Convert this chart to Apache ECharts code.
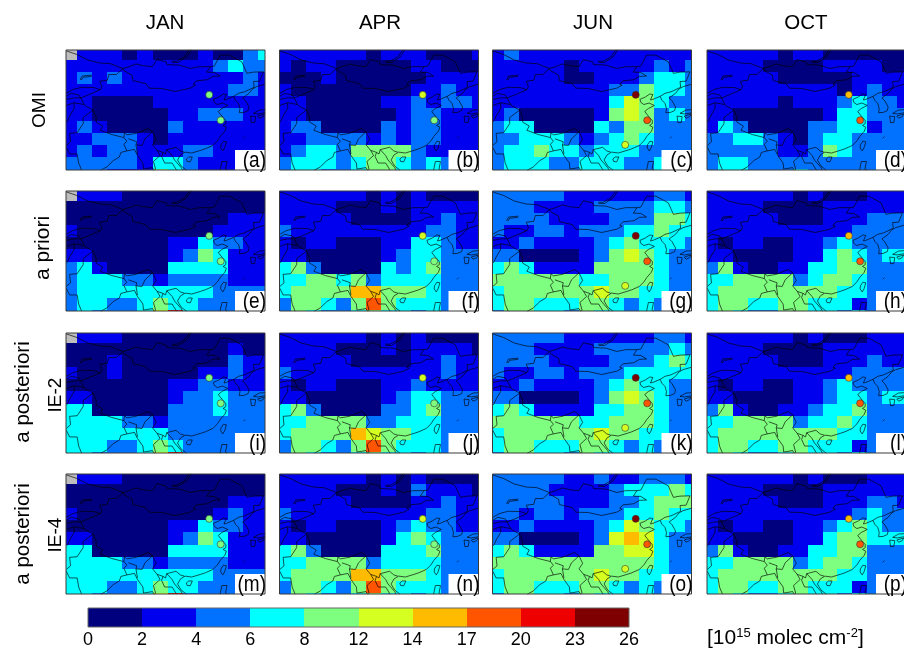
<!DOCTYPE html>
<html><head><meta charset="utf-8">
<script src="https://cdn.jsdelivr.net/npm/echarts@6/dist/echarts.min.js"></script>
<style>html,body{margin:0;padding:0;background:#fff}#c{width:904px;height:650px}</style></head>
<body><div id="c"></div>
<script>
const months=['JAN','APR','JUN','OCT'];
const rowNames=[['OMI'],['a priori'],['a posteriori','IE-2'],['a posteriori','IE-4']];
const tickLabels=['0','2','4','6','8','12','14','17','20','23','26'];
const binEdges=[0,2,4,6,8,12,14,17,20,23,26];
const binMid=[1,3,5,7,10,13,15.5,18.5,21.5,24.5];
const binColors=['#00007f','#0000ee','#0072ff','#00ffff','#7fff7f','#d4ff20','#ffbb00','#ff5500','#ee0000','#7f0000'];
const panelLetters=['a','b','c','d','e','f','g','h','i','j','k','l','m','n','o','p'];
// rows north to south, columns west to east; each digit is a colour-bin index, "-" = no data
const panelA=["-1110100010023","11111111112322","12121111111121","11111111111221","11000011111111","11000001122211","12100002111111","11222101111111","12122111221111","22222133211111","22211143211111"];
const panelB=["11111101110001","10110000011000","00010000001111","10000000011211","11000001121221","11000000122111","12200002122111","11222212122111","12332444421111","23332344323222","23322344323222"];
const panelC=["12111111111111","11111011111212","11111001112332","11111111224332","11111111354322","12000001454232","23300003244222","22333212343222","23343323332222","23332233322322","23332233322322"];
const panelD=["11111011000000","11110000111100","11111000001111","11111111101211","11111011123221","11000000133222","13200002233122","22332102332222","22222112432222","23322222222222","23322232222222"];
const panelE=["-1110000000000","00000000000000","00000000000111","10000000001111","00000001132211","11000001243111","23100003333111","23332212222111","23333333332222","23322343322222","23222358322222"];
const panelF=["11111101010000","11110001011111","11111000011211","21111111112211","10110001133211","11000001233222","34200003234222","33443423333222","34444664443222","24432474333222","24322343323222"];
const panelG=["22222111111221","22211112222332","22221111222443","21122122233433","11211112343332","22000012454322","34311114444322","44444433444322","34444445443322","34433344323222","24433243323222"];
const panelH=["11111101000111","11110000111111","11111000111222","11111111112222","10110011232222","11000011343233","24100113344222","33444423443222","34444444433222","34433443331222","34322443323222"];
const panelI=["-1110000000000","00000000000100","00010000000211","10010000011211","00000001122111","11000001223222","33000002223222","33332212222222","33333332222222","33322343222222","33222358222222"];
const panelJ=["11111101010000","11110001011110","11111000011211","21111111111211","10110001121111","11000001233222","34200002234222","33444422333222","34444654433222","24432474333222","24322343323222"];
const panelK=["22222111111221","22211112222232","22221111222343","21122122233333","11211112343322","22000012454322","34311113344322","44444433444322","34444445443322","34433344323222","24433243323222"];
const panelL=["11111101000111","11110000111111","11111000111211","11111111112222","10110011232222","11000011233233","24100112334222","33444423343222","34444444433222","34433443331222","34322343323222"];
const panelM=["-1110000000000","00000000000000","00000000000111","10000000001211","00000001132211","11000001243111","33000003333111","33332212222111","33333333332222","33322343322222","33222358222222"];
const panelN=["11111101010000","11110001021110","11111000011211","21111111112211","10110001232211","11000001343222","34200003334222","33444423333222","34444664443222","24432474333222","24322343323222"];
const panelO=["22222112112221","22221111233343","22222111223444","22122122233433","11211112354332","22000012565322","34311114455322","44444444444322","34444445443322","34433344323222","24433243323222"];
const panelP=["11111101000111","11110000111111","11111000111221","11111111112322","10110011234322","11000011344333","24100113344222","33444423443222","34444444433222","34433443331222","34322343323222"];
const panels=[panelA,panelB,panelC,panelD,panelE,panelF,panelG,panelH,panelI,panelJ,panelK,panelL,panelM,panelN,panelO,panelP];
// site dots: [lon, lat], and the column (month) values at each site
const sites=[[116.3,40.5],[120.1,32.1],[112.8,24.0]];
const siteJan=[10,10,null];
const siteApr=[13,10,null];
const siteJun=[24.5,18.5,13];
const siteOct=[15.5,18.5,null];
const siteVals=[siteJan,siteApr,siteJun,siteOct];
// map outlines, lon/lat
const mapLines=[
[[87.7,49.2],[89.7,49.8],[92,50.7],[94.5,50.1],[97.5,49.8],[98.9,52.1],[102,51.4],[102.3,50.5],[106.5,50.3],[110,49.2],[113,49.8],[116.7,49.8],[115.5,48],[118,47.9],[119.9,46.7],[117.5,46.6],[115.7,45.5],[112,45.1],[111,44],[111.8,43.7],[110,42.7],[105,41.6],[100.5,42.6],[96.4,42.7],[95.3,44.2],[91,45.2],[90.7,47],[88,48.5],[87.7,49.2]],
[[68.9,55],[72.5,53.8],[76,52],[80,51],[83.5,50.8],[87.7,49.2]],
[[116.7,49.8],[118,50],[119.9,53.6],[123,53.6],[127.1,51.4],[128.8,47.6],[131,48],[134.3,48.1],[133,45],[131,44.9],[131.2,43],[130.6,42.4],[128,41.5],[126,41],[124.4,40]],
[[130.6,42.4],[132,43.2],[134.8,44]],
[[124.4,40],[122,39],[121.2,38.8],[121.6,39.8],[122,40.6],[121,40.8],[119.5,39.8],[117.7,39],[118,38],[119,37.3],[120.7,37.8],[122.5,37],[120.5,36],[119.3,35],[120.5,33.5],[121.8,32],[121.8,31],[120.9,30.4],[122,29.8],[121.5,28.5],[120,26.8],[119,25.3],[117.5,23.8],[115,22.7],[113.5,22.2],[110.5,21.3],[110,21.5],[108.3,21.6],[106.8,20.7],[105.8,19],[107,17],[108.8,15.6]],
[[108.7,19.3],[109.5,20],[110.7,20],[110.9,19.5],[110,18.4],[109,18.5],[108.7,19.3]],
[[121,25.2],[122,25],[121.4,23],[120.8,22],[120.1,23],[120.2,24],[121,25.2]],
[[124.4,40],[125,38.7],[126,37.7],[126.5,36],[126.3,34.6],[127.8,34.7],[129.2,35.3],[129.5,36.5],[128.4,38.5],[127.4,39.5],[129.5,41],[130.6,42.4]],
[[134.9,35.6],[133,35.5],[131,34.4],[131.2,33.9],[132.5,34.2],[134.9,34.6]],
[[130,33.5],[131.7,33.3],[131.4,31.4],[130.3,31.3],[130,33.5]],
[[132.4,33.5],[134.7,34.2],[134.2,33.3],[133,32.8],[132.4,33.5]],
[[127.7,26.2],[128.2,26.7]],
[[119.9,15.6],[120.5,18.5],[122.2,18.5],[121.7,16],[122.3,15.6]],
[[73.5,45.4],[74.1,46.7],[77.4,47]],
[[73.9,45.4],[74.5,46.3],[77.3,46.6]],
[[103.8,51.6],[105.5,51.6],[108,53],[109.8,55.4]],
[[104,51.2],[106,51.2],[108.8,53],[110.4,55.4]],
[[87.7,49.2],[85.5,47.2],[83,47.2],[82.5,45.3],[80,45],[80.7,43.2],[80.2,42.2],[76,40.4],[73.7,39.5],[74.8,37.3],[75.5,36.7],[77.8,35.5],[78.8,33],[78.8,31.5],[81,30.2],[80.2,28.8],[84,27.4],[88,26.4],[88.2,28],[89,27.3],[92,27.8],[96,29.4],[97.5,28.3],[98.7,25.8],[97.5,24],[99,22.2],[101,21.5],[101.8,21],[102.2,22.4],[105.3,23.2],[106.7,22],[108,21.6]],
[[68.9,41],[71,42.2],[74,43],[78,42.9],[80.2,42.2]],
[[68.9,40],[70.5,41],[73,40.5],[73.7,39.5]],
[[68.9,39],[71.5,39.5],[73.7,39.5]],
[[68.9,37],[71.5,37.9],[74.8,37.3]],
[[71.5,37.9],[71.5,36],[70,33.5],[69.3,31.9],[68.9,31.5]],
[[77.8,35.5],[74.5,33],[74.5,31],[72.5,28],[70,27.8],[70.3,25],[68.9,23.8]],
[[68.9,23.2],[70,21],[72.5,21],[73,18],[74,15.6]],
[[80.3,15.6],[82.3,16.7],[84.5,18.8],[86.5,20],[87,21.5],[89,22],[91.5,22.5],[92.5,20.5],[94.3,18],[94.5,16],[95,15.8],[97.5,16.5],[98,15.6]],
[[88,26.4],[89,25.2],[88,24.2],[89,22]],
[[89.5,26],[92.3,25],[92,24],[92.5,21]],
[[92,24],[94,23.8],[95,26],[97.5,28.3]],
[[99,22.2],[100,20.5],[97.8,18.5],[98.5,16],[98.2,15.6]],
[[101,21.5],[100.5,20.2],[101.5,18],[104,18],[105.5,15.6]],
[[102.2,22.4],[104,20.5],[104.8,19],[107,16.5],[107.5,15.6]]
];
const colLeft=[66,279.5,492.5,707];
const rowTop=[50,191,333,474];
const panelW=199, panelH2=120;
const lonRange=[68.8,134.8], latRange=[15.7,55.3];

const grids=[],xAxes=[],yAxes=[],series=[],graphics=[],vmSeries=[];
const lineData=[];
mapLines.forEach(l=>{l.forEach(p=>lineData.push(p));lineData.push(['-','-']);});
function renderCell(params,api){
  const lon=api.value(0),lat=api.value(1);
  const a=api.coord([lon-2.5,lat+2]),b=api.coord([lon+2.5,lat-2]);
  const s=params.coordSys;
  const x0=Math.round(a[0]),y0=Math.round(a[1]),x1=Math.round(b[0]),y1=Math.round(b[1]);
  const r=echarts.graphic.clipRectByRect({x:x0,y:y0,width:x1-x0,height:y1-y0},{x:s.x,y:s.y,width:s.width,height:s.height});
  return r&&{type:'rect',shape:r,style:{fill:api.visual('color')}};
}
function renderBin(params,api){
  const i=api.value(0);
  const a=api.coord([i,1]),b=api.coord([i+1,0]);
  const x0=Math.round(a[0]),x1=Math.round(b[0]);
  return {type:'rect',shape:{x:x0,y:a[1],width:x1-x0,height:b[1]-a[1]},style:{fill:api.visual('color')}};
}
panels.forEach((rows,idx)=>{
  const c=idx%4,r=Math.floor(idx/4),x=colLeft[c],y=rowTop[r];
  grids.push({left:x,top:y,width:panelW,height:panelH2});
  xAxes.push({gridIndex:idx,type:'value',min:lonRange[0],max:lonRange[1],show:false});
  yAxes.push({gridIndex:idx,type:'value',min:latRange[0],max:latRange[1],show:false});
  const cells=[];
  rows.forEach((s,ri)=>{[...s].forEach((ch,ci)=>{
    cells.push([70+5*ci,54-4*ri,ch==='-'?-1:binMid[+ch]]);
  });});
  vmSeries.push(series.length);
  series.push({type:'custom',xAxisIndex:idx,yAxisIndex:idx,coordinateSystem:'cartesian2d',renderItem:renderCell,data:cells,encode:{x:0,y:1},silent:true,animation:false,z:2});
  series.push({type:'line',xAxisIndex:idx,yAxisIndex:idx,data:lineData,showSymbol:false,connectNulls:false,silent:true,animation:false,lineStyle:{color:'#000',width:1,opacity:0.65},z:3,clip:true});
  const dots=[];
  sites.forEach((p,i)=>{const v=siteVals[c][i];if(v!=null)dots.push([p[0],p[1],v]);});
  vmSeries.push(series.length);
  series.push({type:'scatter',xAxisIndex:idx,yAxisIndex:idx,data:dots,symbolSize:7,silent:true,animation:false,itemStyle:{borderColor:'#333',borderWidth:0.6,opacity:1},z:4});
  graphics.push({type:'rect',z:20,shape:{x:x+panelW-30,y:y+panelH2-20,width:30,height:20},style:{fill:'#fff'}});
  graphics.push({type:'rect',z:21,shape:{x:x,y:y,width:panelW,height:panelH2},style:{fill:'none',stroke:'#3a3a3a',lineWidth:1}});
  graphics.push({type:'text',z:22,x:x+panelW+1,y:y+panelH2-9,originX:0,originY:0,scaleY:1.12,style:{text:'('+panelLetters[idx]+')',font:'19px "Liberation Sans"',fill:'#000',align:'right',verticalAlign:'middle'}});
});
// colour bar
const cb=panels.length;
grids.push({left:88,top:608,width:541,height:19});
xAxes.push({gridIndex:cb,type:'value',min:0,max:10,interval:1,axisLine:{show:false},axisTick:{show:false},splitLine:{show:false},
  axisLabel:{show:true,margin:4,fontSize:18,fontFamily:'Liberation Sans',color:'#000',hideOverlap:false,formatter:v=>tickLabels[v]}});
yAxes.push({gridIndex:cb,type:'value',min:0,max:1,show:false});
vmSeries.push(series.length);
series.push({type:'custom',xAxisIndex:cb,yAxisIndex:cb,coordinateSystem:'cartesian2d',renderItem:renderBin,data:binMid.map((m,i)=>[i,0,m]),encode:{x:0,y:1},silent:true,animation:false});
graphics.push({type:'rect',z:21,shape:{x:88,y:608,width:541,height:19},style:{fill:'none',stroke:'#666',lineWidth:1}});
// titles
const headX=[165,380,593,806];
months.forEach((m,i)=>graphics.push({type:'text',x:headX[i],y:23,style:{text:m,font:'20.5px "Liberation Sans"',fill:'#000',align:'center',verticalAlign:'middle'}}));
const rowLabelPos=[[[40,110,19]],[[43,248,21]],[[23,392,20.5],[56,395,19]],[[23,534,20.5],[56,535,19]]];
rowNames.forEach((names,r)=>names.forEach((t,k)=>{
  const p=rowLabelPos[r][k];
  graphics.push({type:'text',x:p[0],y:p[1],rotation:Math.PI/2,style:{text:t,font:p[2]+'px "Liberation Sans"',fill:'#000',align:'center',verticalAlign:'middle'}});
}));
graphics.push({type:'text',x:707,y:638,style:{text:'[10{s|15} molec cm{s|-2}]',fill:'#000',font:'21px "Liberation Sans"',verticalAlign:'middle',
  rich:{s:{fontSize:13,fontFamily:'Liberation Sans',padding:[0,0,9,0],fill:'#000'}}}});

const pieces=[{min:-2,max:-0.5,color:'#bdbdbd'}];
binColors.forEach((col,i)=>pieces.push({min:binEdges[i],max:binEdges[i+1],color:col}));
const chart=echarts.init(document.getElementById('c'),null,{renderer:'canvas'});
chart.setOption({animation:false,backgroundColor:'#fff',grid:grids,xAxis:xAxes,yAxis:yAxes,series:series,graphic:graphics,
  visualMap:{type:'piecewise',show:false,dimension:2,seriesIndex:vmSeries,pieces:pieces}});
</script></body></html>
